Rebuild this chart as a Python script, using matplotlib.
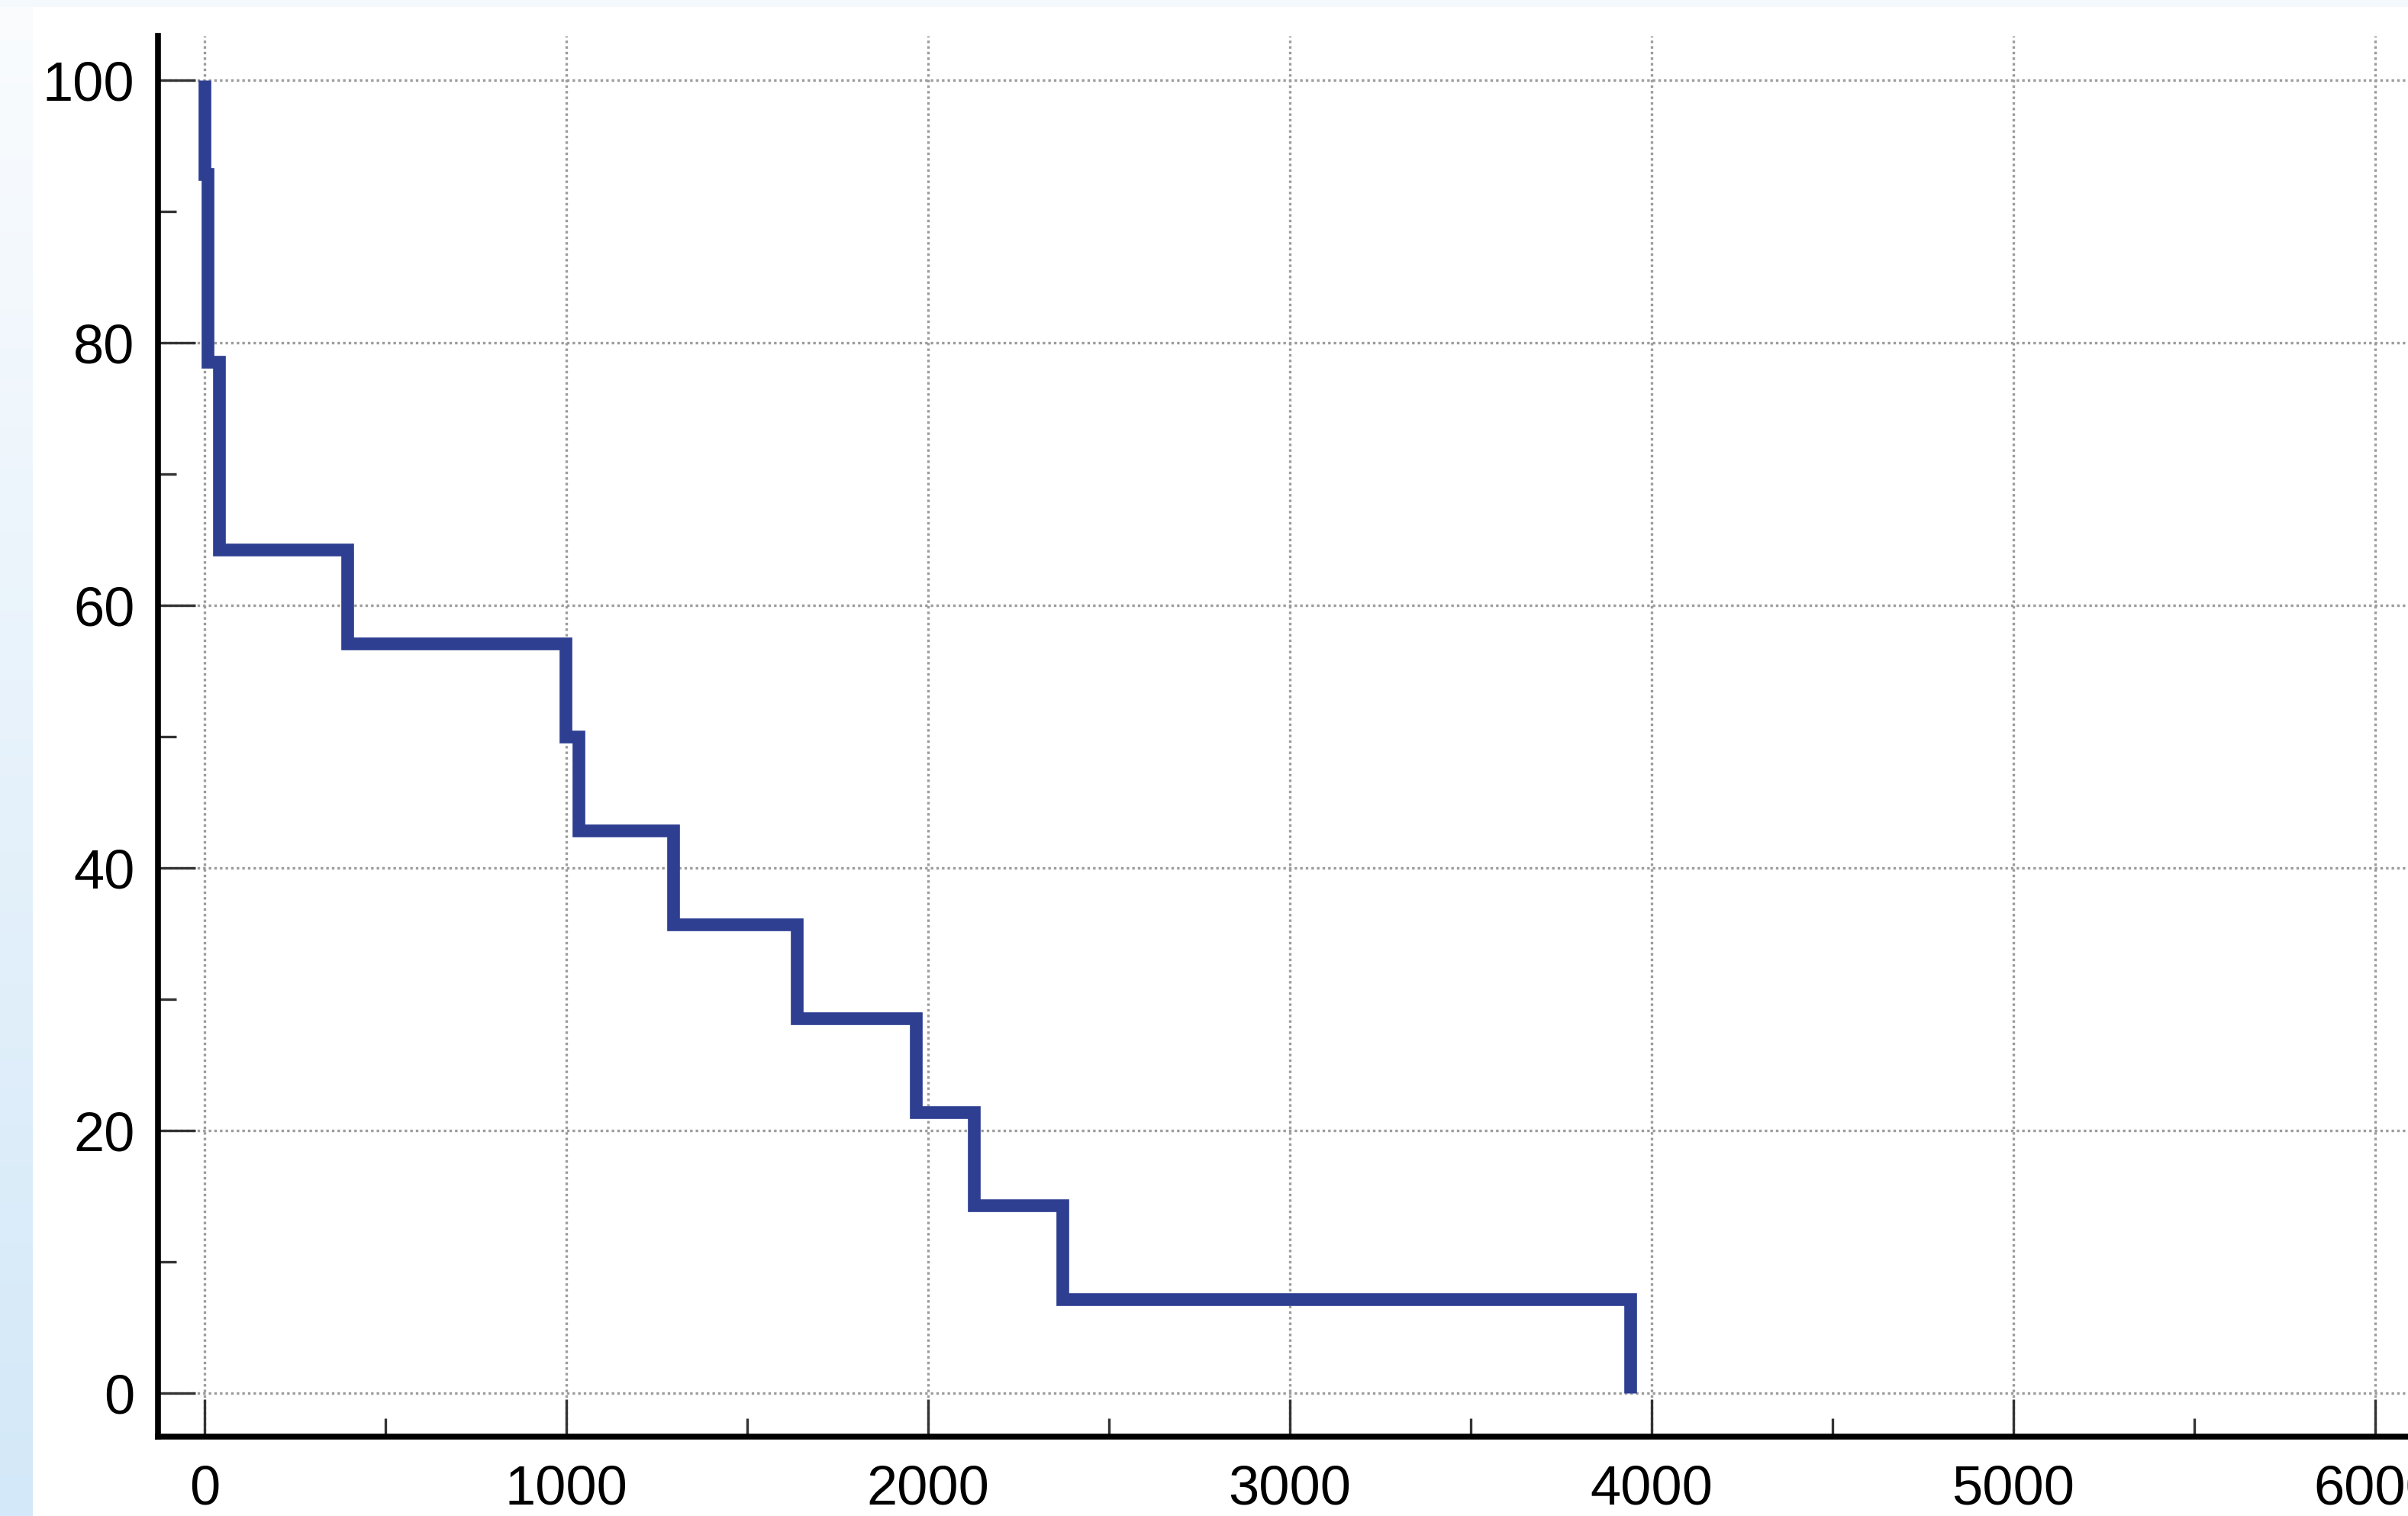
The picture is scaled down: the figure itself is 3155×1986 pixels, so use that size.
import numpy as np
import matplotlib
matplotlib.use("Agg")
import matplotlib.pyplot as plt
from matplotlib.patches import Rectangle
from matplotlib.ticker import MultipleLocator

# Event times and survival (%) after each event
event_times = [0, 8, 40, 395, 998, 1034, 1296, 1637, 1967, 2126, 2372, 3941]
survival = [92.86, 78.57, 64.29, 57.14, 50.0, 42.86, 35.71, 28.57, 21.43, 14.29, 7.14, 0.0]
x_ticks = [0, 1000, 2000, 3000, 4000, 5000, 6000]
y_ticks = [0, 20, 40, 60, 80, 100]

plt.rcParams['font.family'] = ['Liberation Sans', 'DejaVu Sans']

W, H = 3155, 1986
fig = plt.figure(figsize=(W / 100, H / 100), dpi=100)
fig.patch.set_facecolor('white')

# light blue strip on the left and top edge
strip = fig.add_axes([0, 0, 43 / W, 1])
grad = np.linspace(0, 1, 256).reshape(-1, 1)
cmap = matplotlib.colors.LinearSegmentedColormap.from_list('strip', ['#d3e8f8', '#fafcfe'])
strip.imshow(grad, aspect='auto', cmap=cmap, origin='lower', extent=[0, 1, 0, 1])
strip.axis('off')
fig.patches.append(Rectangle((0, 1 - 9 / H), 1, 9 / H, transform=fig.transFigure,
                             facecolor='#f4f9fd', edgecolor='none', zorder=0))

ax = fig.add_axes([207 / W, 1 - 1882 / H, 1 - 207 / W, (1882 - 47) / H])
ax.set_facecolor('white')

xs = [0] + event_times
ys = [100] + survival
ax.plot(xs, ys, drawstyle='steps-post', color='#2e3f92', linewidth=12,
        solid_joinstyle='miter', solid_capstyle='butt', zorder=3)

ax.set_xlim(-129, 6091)
ax.set_ylim(-3.3, 103.4)
ax.set_xticks(x_ticks)
ax.set_yticks(y_ticks)
ax.xaxis.set_minor_locator(MultipleLocator(500))
ax.yaxis.set_minor_locator(MultipleLocator(10))

ax.grid(True, which='major', color='#9c9c9c', linestyle=(0, (1, 1.2)), linewidth=2.4, zorder=1)

for side in ['top', 'right']:
    ax.spines[side].set_visible(False)
for side in ['left', 'bottom']:
    ax.spines[side].set_linewidth(5.5)
    ax.spines[side].set_color('black')

ax.tick_params(which='major', direction='in', length=35, width=2.4, color='#333333',
               labelsize=52, labelcolor='black')
ax.tick_params(axis='x', which='major', pad=26)
ax.tick_params(axis='y', which='major', pad=22)
ax.tick_params(which='minor', direction='in', length=17, width=2.4, color='#333333')

fig.savefig('out.png', dpi=100)
